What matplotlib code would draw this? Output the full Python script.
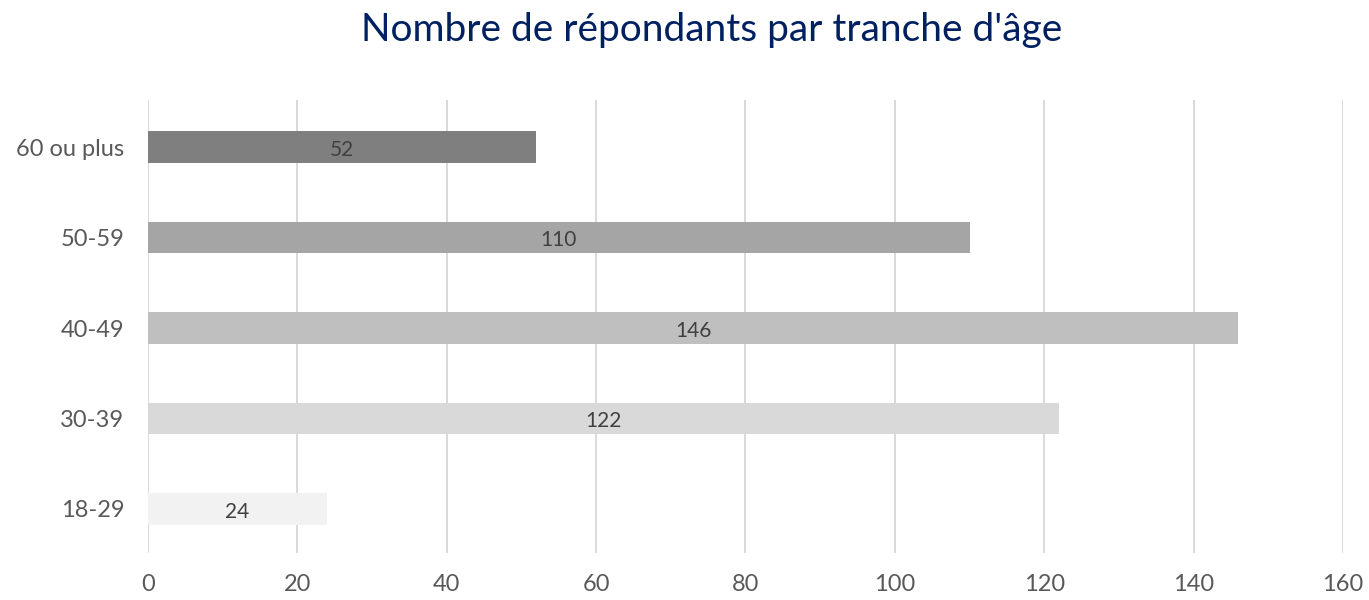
import matplotlib.pyplot as plt

# data
categories = ["18-29", "30-39", "40-49", "50-59", "60 ou plus"]
counts = [24, 122, 146, 110, 52]
bar_colors = ["#f2f2f2", "#d9d9d9", "#bfbfbf", "#a5a5a5", "#7f7f7f"]
x_ticks = [0, 20, 40, 60, 80, 100, 120, 140, 160]

plt.rcParams['font.family'] = ['Lato', 'DejaVu Sans']

fig = plt.figure(figsize=(13.69, 6), dpi=100)
ax = fig.add_axes([0.108, 0.078, 0.873, 0.755])

ypos = list(range(len(categories)))
ax.barh(ypos, counts, height=0.35, color=bar_colors, zorder=3)

# value labels in the middle of each bar
for y, v in zip(ypos, counts):
    ax.text(v / 2, y - 0.03, str(v), ha="center", va="center",
            fontsize=15, color="#404040", zorder=4)

ax.set_xlim(0, 160)
ax.set_ylim(-0.49, 4.52)
ax.set_xticks(x_ticks)
ax.set_yticks(ypos)
ax.set_yticklabels(categories)

ax.grid(axis="x", color="#d9d9d9", linewidth=1.4, zorder=0)
ax.set_axisbelow(True)
for s in ax.spines.values():
    s.set_visible(False)
ax.tick_params(axis="both", length=0, labelsize=17, labelcolor="#595959")
ax.tick_params(axis="x", pad=15)
ax.tick_params(axis="y", pad=17)

fig.suptitle("Nombre de répondants par tranche d'âge", x=0.52, y=0.98,
             fontsize=28, color="#002060")

fig.savefig("out.png", dpi=100)
